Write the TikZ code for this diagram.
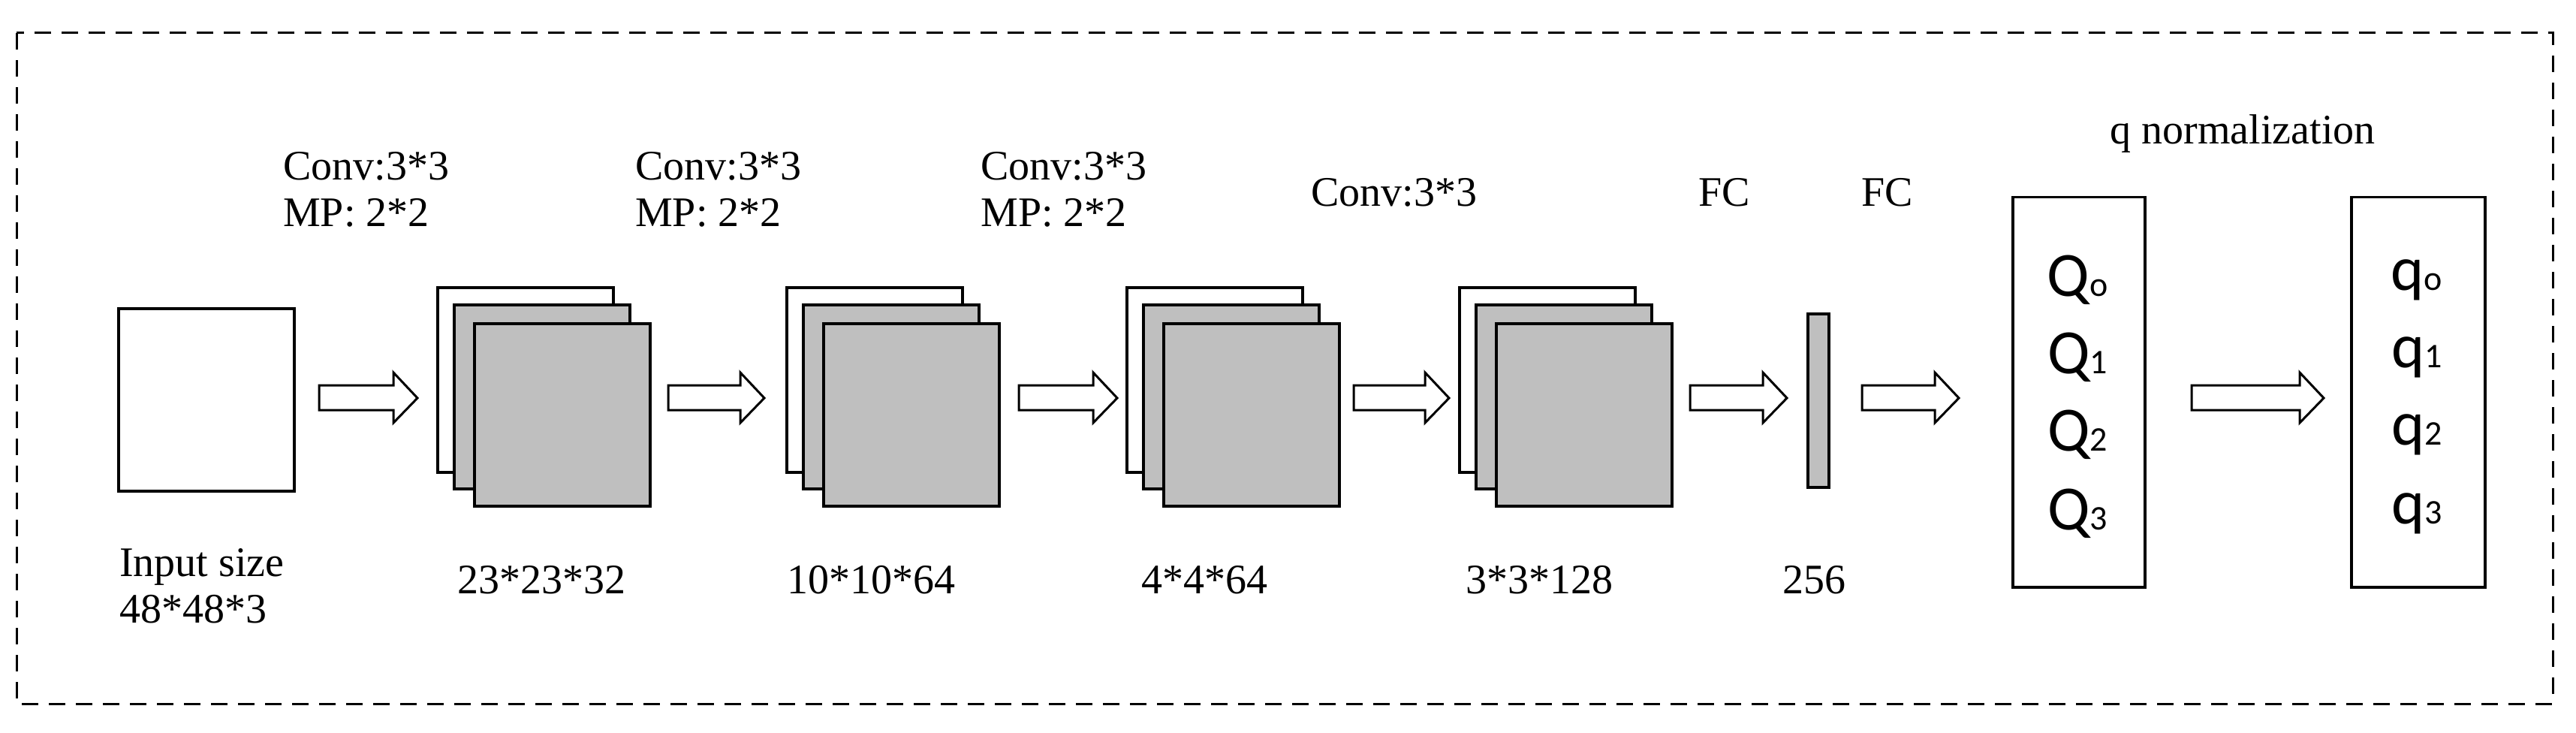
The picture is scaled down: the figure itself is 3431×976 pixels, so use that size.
\documentclass[tikz,border=0pt]{standalone}
\usepackage{fontspec}
\setmainfont{Liberation Serif}
\newfontfamily\qfont{Carlito}
\begin{document}
\begin{tikzpicture}[x=1pt,y=-1pt,
  fm/.style={draw,line width=3.5pt},
  lbl/.style={font=\fontsize{56}{62}\selectfont,inner sep=0pt},
  qq/.style={font=\qfont\fontsize{84}{84}\selectfont,inner sep=0pt},
  fatarrow/.style={draw,line width=3pt,fill=white}]
\useasboundingbox (0,0) rectangle (3431,976);
\draw[line width=3pt,dash pattern=on 22pt off 14pt] (22,44) rectangle (3400,937);
\node[fm,fill=white,minimum width=234,minimum height=243,anchor=north west,inner sep=0] (in) at (156,409) {};
\foreach \n/\x in {1/581,2/1046,3/1499,4/1942}{
  \node[fm,fill=white,minimum width=234,minimum height=246,anchor=north west,inner sep=0] (s\n a) at (\x,381) {};
  \node[fm,fill=gray!50,minimum width=234,minimum height=245,anchor=north west,inner sep=0] (s\n b) at (\x+22,404) {};
  \node[fm,fill=gray!50,minimum width=234,minimum height=243,anchor=north west,inner sep=0] (s\n c) at (\x+49,429) {};
}
\node[fm,fill=gray!50,minimum width=28,minimum height=231,anchor=north west,inner sep=0] (fc) at (2406,416) {};
\node[fm,minimum width=176,minimum height=519,anchor=north west,inner sep=0] (Q) at (2679,261) {};
\node[fm,minimum width=178,minimum height=519,anchor=north west,inner sep=0] (q) at (3130,261) {};
\foreach \a/\b in {425/556,890/1018,1357/1488,1803/1930,2251/2380,2480/2609,2919/3095}{
  \draw[fatarrow] (\a,513) -- (\b-32,513) -- (\b-32,496) -- (\b,530) -- (\b-32,563) -- (\b-32,546) -- (\a,546) -- cycle;
}
\foreach \x/\n in {377/1,846/2,1306/3}{
  \node[lbl,anchor=west,align=left] (c\n) at (\x,252) {Conv:3*3\\MP: 2*2};
}
\node[lbl,anchor=west] (c4) at (1746,256) {Conv:3*3};
\node[lbl] (f1) at (2297,256) {FC};
\node[lbl] (f2) at (2514,256) {FC};
\node[lbl] (qn) at (2987,178) {q normalization};
\node[lbl,anchor=west,align=left] (il) at (159,780) {Input size\\48*48*3};
\node[lbl] (l1) at (721,772) {23*23*32};
\node[lbl] (l2) at (1160,772) {10*10*64};
\node[lbl] (l3) at (1604,772) {4*4*64};
\node[lbl] (l4) at (2050,772) {3*3*128};
\node[lbl] (l5) at (2416,772) {256};
\newcommand{\sbs}[1]{{\fontsize{46}{46}\selectfont #1}}
\foreach \y/\s [count=\i] in {373/o,476/1,579/2,684/3}{
  \node[qq] (Q\i) at (2767,\y) {Q\sbs{\s}};
  \node[qq] (q\i) at (3219,\y) {q\sbs{\s}};
}
\end{tikzpicture}
\end{document}
